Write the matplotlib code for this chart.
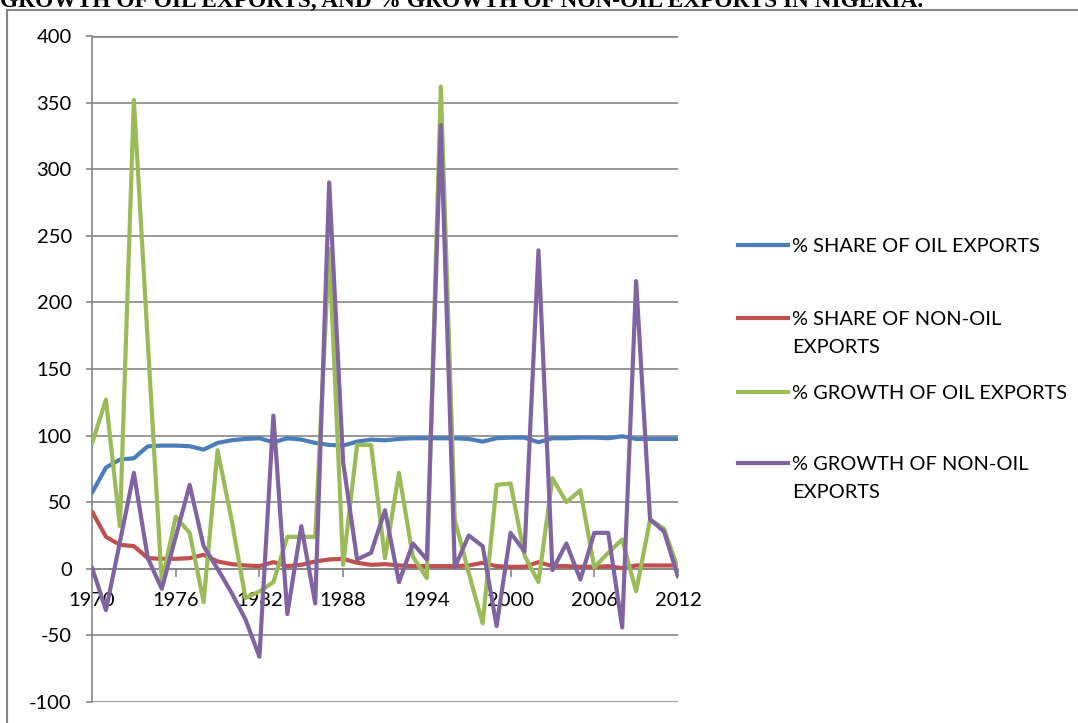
import matplotlib
matplotlib.use("Agg")
import matplotlib.pyplot as plt
from matplotlib.lines import Line2D
from matplotlib.patches import Rectangle

W, H = 1078, 723

years = list(range(1970, 2013))

share_oil = [57, 76, 82, 83, 92, 92.5, 92.5, 92, 89.5, 94.5,
             96.5, 97.5, 98, 95, 98, 97, 94.5, 93, 92.5, 95.5,
             97, 96.5, 97.5, 98, 98, 98, 98, 97.5, 95.5, 98,
             98.5, 98.5, 95, 98, 98, 98.5, 98.5, 98, 99.5, 97.5,
             97.5, 97.5, 97.5]

share_non_oil = [43, 24, 18, 17, 8, 7.5, 7.5, 8, 10.5, 5.5,
                 3.5, 2.5, 2, 5, 2, 3, 5.5, 7, 7.5, 4.5,
                 3, 3.5, 2.5, 2, 2, 2, 2, 2.5, 4.5, 2,
                 1.5, 1.5, 5, 2, 2, 1.5, 1.5, 2, 0.5, 2.5,
                 2.5, 2.5, 2.5]

growth_oil = [94, 127, 32, 352, 170, -10, 39, 27, -25, 89,
              37, -22, -17, -10, 24, 24, 24, 240, 3, 93,
              93, 8, 72, 9, -7, 362, 37, -3, -41, 63,
              64, 10, -10, 68, 50, 59, 1, 12, 22, -17,
              37, 30, 0]

growth_non_oil = [1, -31, 20, 72, 8, -15, 24, 63, 17, 0,
                  -18, -38, -66, 115, -34, 32, -26, 290, 80, 7,
                  12, 44, -10, 19, 7, 333, 1, 25, 17, -43,
                  27, 13, 239, -1, 19, -8, 27, 27, -44, 216,
                  37, 28, -6]

labels = ["% SHARE OF OIL EXPORTS",
          "% SHARE OF NON-OIL\nEXPORTS",
          "% GROWTH OF OIL EXPORTS",
          "% GROWTH OF NON-OIL\nEXPORTS"]
colors = ["#4A7EBB", "#C0504D", "#9BBB59", "#8064A2"]

x_ticks = [1970, 1976, 1982, 1988, 1994, 2000, 2006, 2012]
y_ticks = list(range(-100, 401, 50))

title = "GROWTH OF OIL EXPORTS, AND % GROWTH OF NON-OIL EXPORTS IN NIGERIA."

grid_col = "#868686"
tick_font = "Lato"

fig = plt.figure(figsize=(W / 100, H / 100), dpi=100)
fig.patch.set_facecolor("white")

# outer chart frame and the heading cut by the top edge
fig.add_artist(Rectangle((7 / W, -0.05), 1.1, 1.05 - 10 / H,
                         transform=fig.transFigure, fill=False,
                         edgecolor=grid_col, lw=1.5, clip_on=False))
fig.text(0.0, 1 - 7.0 / H, title, ha="left", va="baseline",
         family="Liberation Serif", fontweight="bold", fontsize=16.8)

ax = fig.add_axes([92 / W, 21 / H, 586 / W, 666 / H])
ax.set_xlim(1970, 2012)
ax.set_ylim(-100, 400)

for v in y_ticks:
    ax.axhline(v, color=grid_col, lw=1.9 if v == 400 else 1.2, zorder=1)

series = [share_oil, share_non_oil, growth_oil, growth_non_oil]
handles = []
for vals, col in zip(series, colors):
    ln, = ax.plot(years, vals, color=col, lw=3.0, zorder=3,
                  solid_joinstyle="round", solid_capstyle="round")
    handles.append(ln)

for s in ("top", "right"):
    ax.spines[s].set_visible(False)
ax.spines["left"].set_color(grid_col)
ax.spines["left"].set_linewidth(1.2)
ax.spines["bottom"].set_position(("data", 0))
ax.spines["bottom"].set_color(grid_col)
ax.spines["bottom"].set_linewidth(1.2)

ax.set_yticks(y_ticks)
ax.set_yticklabels([str(v) for v in y_ticks], family=tick_font, fontsize=14.5)
ax.set_xticks(x_ticks)
ax.set_xticklabels([str(v) for v in x_ticks], family=tick_font, fontsize=14.5)
ax.tick_params(axis="y", direction="out", length=4, width=1.2,
               color=grid_col, pad=10.5)
ax.tick_params(axis="x", direction="out", length=6, width=1.2,
               color=grid_col, pad=11)

# legend drawn at the right of the plot
legend_y = [245, 318, 392, 463]
for ln, lab, yp in zip(handles, labels, legend_y):
    yf = 1 - yp / H
    fig.add_artist(Line2D([738 / W, 788 / W], [yf, yf], color=ln.get_color(),
                          lw=3.0, transform=fig.transFigure))
    for i, part in enumerate(lab.split("\n")):
        fig.text(792 / W, 1 - (yp + 7 + 28 * i) / H, part, ha="left",
                 va="baseline", family=tick_font, fontsize=14.4)

fig.savefig("out.png", dpi=100, facecolor="white")
